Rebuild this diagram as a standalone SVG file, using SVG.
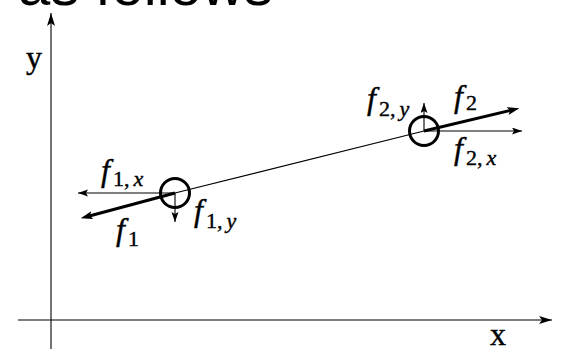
<svg xmlns="http://www.w3.org/2000/svg" width="562" height="349" viewBox="0 0 562 349">
<style>
.thin{stroke:#000;stroke-width:1.1;fill:none}
.thick{stroke:#000;stroke-width:3;fill:none}
.ring{stroke:#000;stroke-width:3;fill:none}
.lab{font-family:"Liberation Serif","Times New Roman",serif;font-size:32px;fill:#000;stroke:#000;stroke-width:0.4}
.it{font-style:italic}
.sub{font-size:22px}
.top{font-family:"Liberation Sans",Arial,sans-serif;font-size:58px;fill:#000}
</style>
<defs>
<marker id="ah" markerUnits="userSpaceOnUse" markerWidth="12" markerHeight="8" refX="10" refY="3.5" orient="auto">
<path d="M0,0 L10,3.5 L0,7 L2,3.5 z" fill="#000"/>
</marker>
<marker id="ahb" markerUnits="userSpaceOnUse" markerWidth="14" markerHeight="10" refX="6" refY="4" orient="auto">
<path d="M0,0 L12,4 L0,8 L2.5,4 z" fill="#000"/>
</marker>
<marker id="aha" markerUnits="userSpaceOnUse" markerWidth="16" markerHeight="9" refX="13" refY="4" orient="auto">
<path d="M0,0 L13,4 L0,8 L3,4 z" fill="#000"/>
</marker>
</defs>
<text class="top" x="18" y="5">as follows</text>
<g id="connectors">
<line id="x-axis" class="thin" x1="18" y1="320" x2="552" y2="320" marker-end="url(#aha)"/>
<line id="y-axis" class="thin" x1="51" y1="349" x2="51" y2="13" marker-end="url(#aha)"/>
<line id="rod" class="thin" x1="175" y1="193" x2="424" y2="131"/>
<line id="f1" class="thick" x1="175" y1="193" x2="86.5" y2="216.7" marker-end="url(#ahb)"/>
<line id="f2" class="thick" x1="424" y1="131" x2="513.5" y2="109.7" marker-end="url(#ahb)"/>
<line id="f1x" class="thin" x1="175" y1="193" x2="78" y2="193" marker-end="url(#ah)"/>
<line id="f1y" class="thin" x1="175" y1="193" x2="175" y2="222" marker-end="url(#ah)"/>
<line id="f2x" class="thin" x1="424" y1="131" x2="522" y2="131" marker-end="url(#ah)"/>
<line id="f2y" class="thin" x1="424" y1="131" x2="424" y2="103" marker-end="url(#ah)"/>
</g>
<g id="particle1"><circle class="ring" cx="175" cy="193" r="14.5"/></g>
<g id="particle2"><circle class="ring" cx="424" cy="131" r="14.5"/></g>
<g id="axis-labels">
<text class="lab" x="26" y="68">y</text>
<text class="lab" x="490" y="345">x</text>
</g>
<g id="force-labels">
<text class="lab" x="101" y="181"><tspan class="it">f</tspan><tspan class="sub" dx="3" dy="5">1,<tspan class="it" dx="4">x</tspan></tspan></text>
<text class="lab" x="116" y="240"><tspan class="it">f</tspan><tspan class="sub" dx="3" dy="6">1</tspan></text>
<text class="lab" x="194" y="221"><tspan class="it">f</tspan><tspan class="sub" dx="3" dy="7">1,<tspan class="it" dx="4">y</tspan></tspan></text>
<text class="lab" x="367" y="109"><tspan class="it">f</tspan><tspan class="sub" dx="3" dy="7">2,<tspan class="it" dx="4">y</tspan></tspan></text>
<text class="lab" x="454" y="107"><tspan class="it">f</tspan><tspan class="sub" dx="3" dy="3">2</tspan></text>
<text class="lab" x="454" y="159"><tspan class="it">f</tspan><tspan class="sub" dx="3" dy="6">2,<tspan class="it" dx="4">x</tspan></tspan></text>
</g>
</svg>
